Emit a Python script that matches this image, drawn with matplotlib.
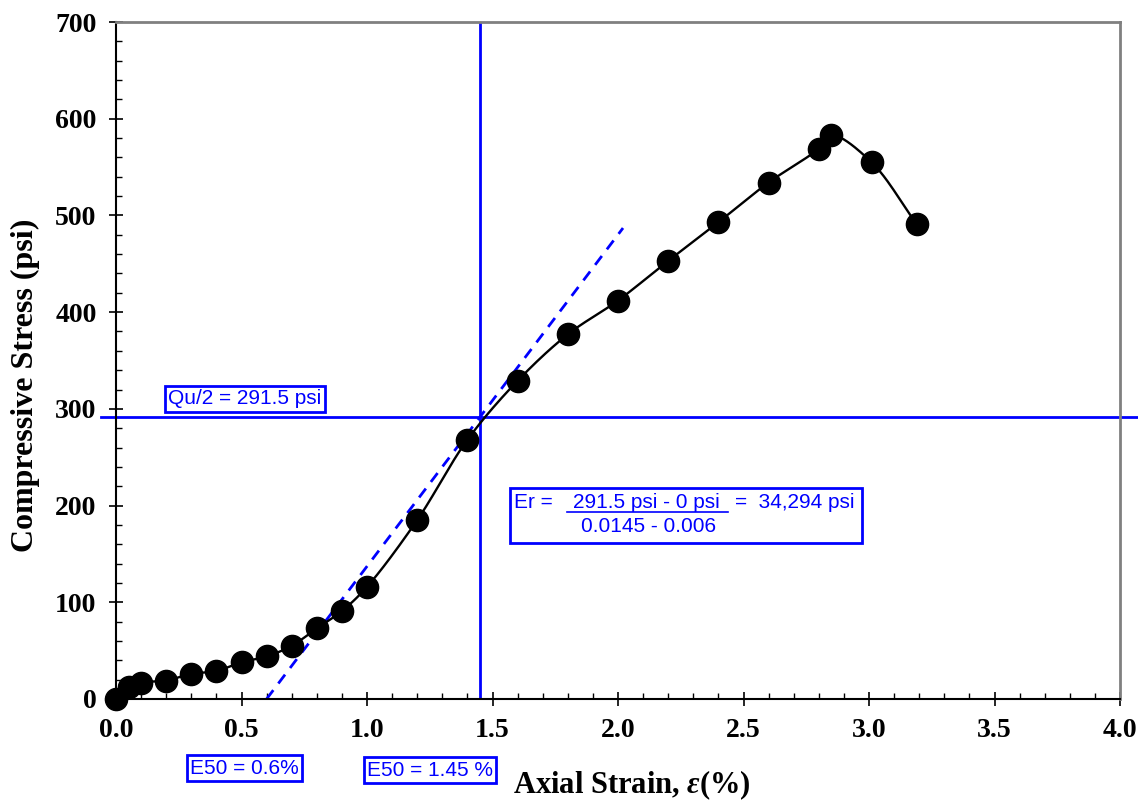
import numpy as np
import matplotlib.pyplot as plt
from matplotlib.patches import Rectangle
from matplotlib.lines import Line2D
from matplotlib.ticker import MultipleLocator

# --- DATA ---
strain = [0.0, 0.05, 0.1, 0.2, 0.3, 0.4, 0.5, 0.6, 0.7, 0.8, 0.9, 1.0,
          1.2, 1.4, 1.6, 1.8, 2.0, 2.2, 2.4, 2.6, 2.8, 2.85, 3.01, 3.19]
stress = [0, 12, 17, 19, 26, 29, 38, 44, 55, 73, 91, 116,
          185, 268, 329, 377, 412, 453, 493, 534, 569, 583, 555, 491]
qu_half = 291.5
e50_strain = 1.45
tangent_x = [0.6, 2.02]

W, H = 1138, 801
BLUE = '#0000FF'
plt.rcParams['mathtext.fontset'] = 'custom'
plt.rcParams['mathtext.it'] = 'Liberation Serif:italic:bold'
plt.rcParams['mathtext.rm'] = 'Liberation Serif:bold'


def px(x, y):
    """pixel position -> figure fraction"""
    return x / W, 1 - y / H


def catmull_rom(ax, xs, ys, n=24):
    """centripetal Catmull-Rom through the points, done in display space"""
    P = ax.transData.transform(np.column_stack([xs, ys]))
    P = np.vstack([2 * P[0] - P[1], P, 2 * P[-1] - P[-2]])
    out = []
    for i in range(len(P) - 3):
        p0, p1, p2, p3 = P[i], P[i + 1], P[i + 2], P[i + 3]
        t0 = 0
        t1 = t0 + np.linalg.norm(p1 - p0) ** 0.5
        t2 = t1 + np.linalg.norm(p2 - p1) ** 0.5
        t3 = t2 + np.linalg.norm(p3 - p2) ** 0.5
        t = np.linspace(t1, t2, n)[:, None]
        a1 = (t1 - t) / (t1 - t0) * p0 + (t - t0) / (t1 - t0) * p1
        a2 = (t2 - t) / (t2 - t1) * p1 + (t - t1) / (t2 - t1) * p2
        a3 = (t3 - t) / (t3 - t2) * p2 + (t - t2) / (t3 - t2) * p3
        b1 = (t2 - t) / (t2 - t0) * a1 + (t - t0) / (t2 - t0) * a2
        b2 = (t3 - t) / (t3 - t1) * a2 + (t - t1) / (t3 - t1) * a3
        out.append((t2 - t) / (t2 - t1) * b1 + (t - t1) / (t2 - t1) * b2)
    out = ax.transData.inverted().transform(np.vstack(out))
    return out[:, 0], out[:, 1]


fig = plt.figure(figsize=(W / 100, H / 100), dpi=100)
l, b = px(116, 699)
r, t = px(1120, 22)
ax = fig.add_axes([l, b, r - l, t - b])
ax.set_xlim(0, 4)
ax.set_ylim(0, 700)

# spines
for s in ['top', 'right']:
    ax.spines[s].set_color('#808080')
    ax.spines[s].set_linewidth(2)
for s in ['left', 'bottom']:
    ax.spines[s].set_color('black')
    ax.spines[s].set_linewidth(1.5)

ax.xaxis.set_major_locator(MultipleLocator(0.5))
ax.xaxis.set_minor_locator(MultipleLocator(0.1))
ax.yaxis.set_major_locator(MultipleLocator(100))
ax.yaxis.set_minor_locator(MultipleLocator(20))
ax.tick_params(which='major', direction='inout', length=10, width=1.2, pad=9)
ax.tick_params(which='minor', direction='in', length=4, width=1.0)
ax.xaxis.set_major_formatter(lambda v, p: f'{v:.1f}')
ax.yaxis.set_major_formatter(lambda v, p: f'{v:.0f}')
for lab in ax.get_xticklabels() + ax.get_yticklabels():
    lab.set_fontfamily('Liberation Serif')
    lab.set_fontweight('bold')
    lab.set_fontsize(20)

# stress-strain curve
cx, cy = catmull_rom(ax, strain, stress)
ax.plot(cx, cy, color='black', lw=1.7, zorder=3)
ax.plot(strain, stress, 'o', color='black', ms=16, zorder=4, clip_on=False)

# E50 construction lines
ax.axvline(e50_strain, color=BLUE, lw=2, zorder=2)
ax.plot([-0.06, 4.08], [qu_half, qu_half], color=BLUE, lw=2, zorder=2, clip_on=False)
slope = qu_half / (e50_strain - tangent_x[0])
ax.plot(tangent_x, [0, slope * (tangent_x[1] - tangent_x[0])], color=BLUE,
        lw=2, ls=(0, (4, 3)), zorder=2)

# axis labels
fig.text(*px(632, 785), r'Axial Strain, $\varepsilon$(%)', ha='center', va='center',
         fontsize=22, fontweight='bold', family='Liberation Serif')
fig.text(*px(25, 385), 'Compressive Stress (psi)', ha='center', va='center',
         rotation=90, fontsize=23, fontweight='bold', family='Liberation Serif')

# annotation boxes
box = dict(boxstyle='square,pad=0.15', fc='white', ec=BLUE, lw=2)
tkw = dict(color=BLUE, fontsize=15, family='Liberation Sans')
fig.text(*px(245, 399), 'Qu/2 = 291.5 psi', ha='center', va='center', bbox=box, **tkw)
fig.text(*px(244, 768), 'E50 = 0.6%', ha='center', va='center', bbox=box, **tkw)
fig.text(*px(430, 770), 'E50 = 1.45 %', ha='center', va='center', bbox=box, **tkw)

x0, y0 = px(510, 543)
x1, y1 = px(862, 488)
fig.add_artist(Rectangle((x0, y0), x1 - x0, y1 - y0, transform=fig.transFigure,
                         fc='white', ec=BLUE, lw=2, zorder=5))
fig.text(*px(514, 502), 'Er =', ha='left', va='center', zorder=6, **tkw)
fig.text(*px(573, 502), '291.5 psi - 0 psi', ha='left', va='center', zorder=6, **tkw)
fig.text(*px(735, 502), '=  34,294 psi', ha='left', va='center', zorder=6, **tkw)
fig.text(*px(581, 527), '0.0145 - 0.006', ha='left', va='center', zorder=6, **tkw)
ux0, uy = px(567, 512)
ux1, _ = px(728, 512)
fig.add_artist(Line2D([ux0, ux1], [uy, uy], transform=fig.transFigure,
                      color=BLUE, lw=1.2, zorder=6))

fig.savefig('out.png', dpi=100)
